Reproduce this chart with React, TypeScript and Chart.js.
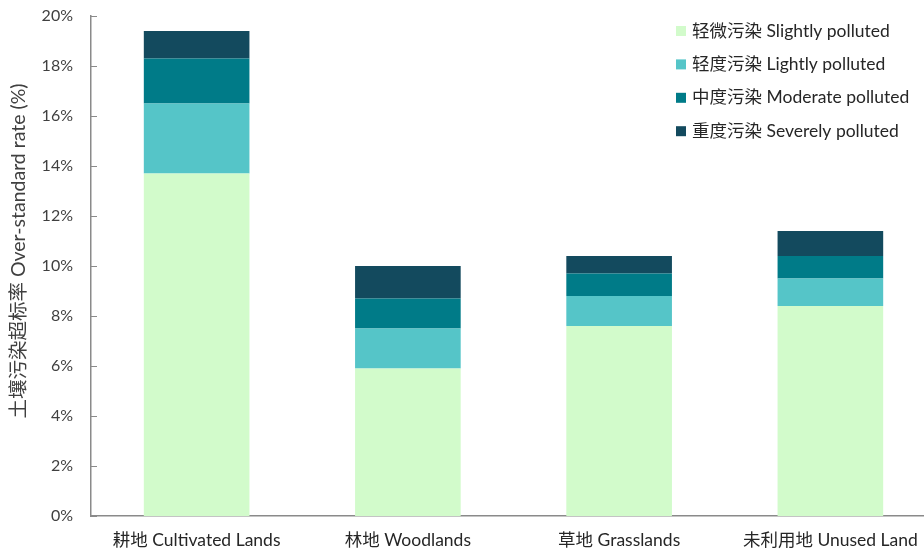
import React, { useEffect, useRef } from "react";
import { Chart, registerables } from "chart.js";

Chart.register(...registerables);

const categories = ["耕地 Cultivated Lands", "林地 Woodlands", "草地 Grasslands", "未利用地 Unused Land"];
const seriesNames = ["轻微污染 Slightly polluted", "轻度污染 Lightly polluted", "中度污染 Moderate polluted", "重度污染 Severely polluted"];
const slightly = [13.7, 5.9, 7.6, 8.4];
const lightly = [2.8, 1.6, 1.2, 1.1];
const moderate = [1.8, 1.2, 0.9, 0.9];
const severely = [1.1, 1.3, 0.7, 1.0];
const seriesColors = ["#d2fbcb", "#55c5c8", "#007b88", "#134a5e"];
const yTitle = "土壤污染超标率 Over-standard rate (%)";

const FONT = "Lato, 'Noto Sans CJK SC', sans-serif";

const innerTicks = {
  id: "innerTicks",
  afterDatasetsDraw(chart: any) {
    const ctx = chart.ctx;
    const y = chart.scales.y;
    const x0 = chart.chartArea.left;
    ctx.save();
    ctx.strokeStyle = "#8a8a8a";
    ctx.lineWidth = 1;
    y.ticks.forEach((t: any) => {
      const py = Math.round(y.getPixelForValue(t.value)) + 0.5;
      ctx.beginPath();
      ctx.moveTo(x0, py);
      ctx.lineTo(x0 + 6, py);
      ctx.stroke();
    });
    ctx.restore();
  },
};

const customLegend = {
  id: "customLegend",
  afterDraw(chart: any) {
    const ctx = chart.ctx;
    const left = chart.chartArea.left + 585;
    const top = 31;
    const gap = 33.4;
    ctx.save();
    ctx.font = `17.5px ${FONT}`;
    ctx.textBaseline = "middle";
    ctx.textAlign = "left";
    chart.data.datasets.forEach((ds: any, i: number) => {
      const cy = top + i * gap;
      ctx.fillStyle = ds.backgroundColor;
      ctx.fillRect(left, cy - 5, 10, 10);
      ctx.fillStyle = "#262626";
      ctx.fillText(ds.label, left + 16, cy);
    });
    ctx.restore();
  },
};

export default function App() {
  const ref = useRef<HTMLCanvasElement>(null);
  useEffect(() => {
    if (!ref.current) return;
    const values = [slightly, lightly, moderate, severely];
    const chart = new Chart(ref.current, {
      type: "bar",
      data: {
        labels: categories,
        datasets: values.map((v, i) => ({
          label: seriesNames[i],
          data: v,
          backgroundColor: seriesColors[i],
          borderWidth: 0,
          barPercentage: 1,
          categoryPercentage: 0.5,
        })),
      },
      options: {
        animation: false,
        responsive: false,
        layout: { padding: { top: 16, left: 0, right: 0, bottom: 0 } },
        plugins: { legend: { display: false }, tooltip: { enabled: false } },
        scales: {
          x: {
            stacked: true,
            grid: { display: false, drawTicks: false },
            border: { display: true, color: "#8a8a8a", width: 1.5 },
            ticks: { color: "#262626", font: { family: FONT, size: 17.5 }, padding: 14, maxRotation: 0 },
            afterFit(s: any) { s.height = 35; s.paddingLeft = 0; s.paddingRight = 0; },
          },
          y: {
            stacked: true,
            min: 0,
            max: 20,
            grid: { display: false, drawTicks: false },
            border: { display: true, color: "#8a8a8a", width: 1.5 },
            ticks: {
              stepSize: 2,
              color: "#404040",
              font: { family: FONT, size: 16 },
              padding: 18,
              callback: (v: any) => `${v}%`,
            },
            title: {
              display: true,
              text: "      " + yTitle,
              color: "#404040",
              font: { family: FONT, size: 19.5 },
              padding: { top: 7, bottom: 0 },
            },
            afterFit(s: any) { s.width = 91; s.paddingTop = 0; s.paddingBottom = 0; },
          },
        },
      },
      plugins: [innerTicks, customLegend],
    });
    return () => chart.destroy();
  }, []);
  return (
    <div style={{ position: "fixed", left: 0, top: 0, width: 924, height: 551, overflow: "hidden", background: "#fff" }}>
      <canvas ref={ref} width={936} height={551} style={{ display: "block" }} />
    </div>
  );
}
